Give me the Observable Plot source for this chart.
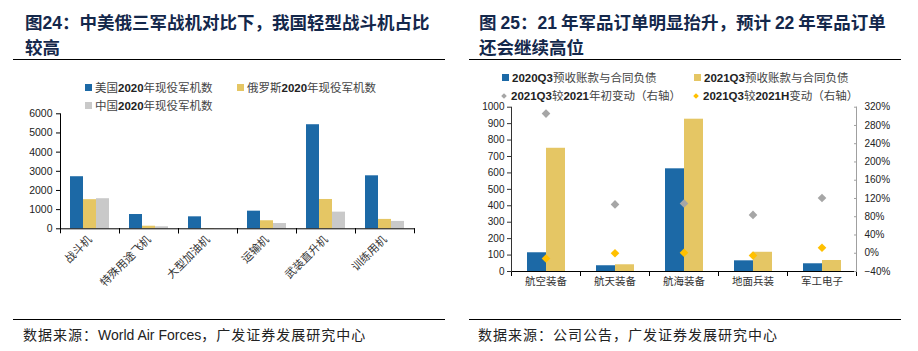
<!DOCTYPE html>
<html><head><meta charset="utf-8">
<script src="https://cdn.jsdelivr.net/npm/d3@7"></script>
<script src="https://cdn.jsdelivr.net/npm/@observablehq/plot@0.6"></script>
<style>
body{margin:0;background:#fff;width:918px;height:351px;position:relative;overflow:hidden;font-family:"Noto Sans CJK SC",sans-serif;}
.abs{position:absolute;}
.title{font-weight:700;font-size:17.5px;color:#14284b;line-height:23px;white-space:nowrap;}
.title b{font-family:Arial,"Liberation Sans",sans-serif;}
.rule{height:1.5px;background:#000;}
.src{font-size:14px;color:#222;white-space:nowrap;line-height:18px;letter-spacing:1px;}
.src span{font-family:Arial,"Liberation Sans",sans-serif;letter-spacing:0;}
.leg{font-size:11.5px;color:#444;white-space:nowrap;display:flex;align-items:center;line-height:14px;}
.leg b{font-family:Arial,"Liberation Sans",sans-serif;font-weight:700;color:#222;}
.sw{display:inline-block;width:7px;height:7px;margin-right:3px;flex:none;}
.dm{display:inline-block;width:4px;height:4px;margin:0 5px 0 2px;transform:rotate(45deg);flex:none;}
.plotbox{position:absolute;}
.plotbox svg{overflow:visible;}
</style></head><body>
<div class="abs title" style="left:25px;top:10px;">图<b>24</b>：中美俄三军战机对比下，我国轻型战斗机占比<br>较高</div>
<div class="abs rule" style="left:13px;top:58.5px;width:432px;"></div>
<div class="abs title" style="left:479px;top:10px;">图 <b>25</b>：<b>21</b> 年军品订单明显抬升，预计 <b>22</b> 年军品订单<br>还会继续高位</div>
<div class="abs rule" style="left:469px;top:58.5px;width:432px;"></div>

<div id="left" class="plotbox" style="left:0;top:100px;"></div>
<div id="right" class="plotbox" style="left:460px;top:96px;"></div>
<div id="legends"></div>

<div class="abs rule" style="left:13px;top:318.5px;width:432px;"></div>
<div class="abs src" style="left:23px;top:325px;">数据来源：<span>World Air Forces</span>，广发证券发展研究中心</div>
<div class="abs rule" style="left:469px;top:318.5px;width:432px;"></div>
<div class="abs src" style="left:478px;top:325px;">数据来源：公司公告，广发证券发展研究中心</div>

<script>
// ---------- Left chart data ----------
const leftCategories = ["战斗机", "特殊用途飞机", "大型加油机", "运输机", "武装直升机", "训练用机"];
const leftSeries = ["美国2020年现役军机数", "俄罗斯2020年现役军机数", "中国2020年现役军机数"];
const usValues = [2717, 745, 625, 920, 5430, 2765];
const ruValues = [1520, 135, 15, 420, 1530, 490];
const cnValues = [1570, 105, 3, 275, 870, 385];
const leftYTicks = [0, 1000, 2000, 3000, 4000, 5000, 6000];

// ---------- Right chart data ----------
const rightCategories = ["航空装备", "航天装备", "航海装备", "地面兵装", "军工电子"];
const rightBarSeries = ["2020Q3预收账款与合同负债", "2021Q3预收账款与合同负债"];
const q3of2020 = [114, 35, 625, 65, 47];
const q3of2021 = [750, 41, 927, 117, 67];
const rightDotSeries = ["2021Q3较2021年初变动（右轴）", "2021Q3较2021H变动（右轴）"];
const changeVsYearStart = [3.06, 1.07, 1.09, 0.84, 1.21];
const changeVsH1 = [-0.115, 0.0, 0.01, -0.05, 0.12];
const rightLeftTicks = [0, 100, 200, 300, 400, 500, 600, 700, 800, 900, 1000];
const rightRightTicks = [-0.4, 0, 0.4, 0.8, 1.2, 1.6, 2.0, 2.4, 2.8, 3.2];

// ---------- Styles ----------
const BLUE = "#1c69a6", YELLOW = "#e5c664", LGRAY = "#c9c9c9", DGRAY = "#a6a6a6", GOLD = "#ffc000";
const latin = "Arial, 'Liberation Sans', 'Noto Sans CJK SC', sans-serif";

// ---------- Left plot ----------
const leftData = leftCategories.flatMap((c, i) => [
  {cat: c, series: leftSeries[0], value: usValues[i]},
  {cat: c, series: leftSeries[1], value: ruValues[i]},
  {cat: c, series: leftSeries[2], value: cnValues[i]}
]);
const LH = 200, LMT = 13.3, LMB = 71.7;
const leftPlot = Plot.plot({
  width: 460, height: LH, marginTop: LMT, marginBottom: LMB, marginLeft: 59, marginRight: 45,
  style: {background: "transparent", fontFamily: latin, fontSize: "10.5px", color: "#222"},
  fx: {domain: leftCategories, padding: 0, axis: null},
  x: {domain: leftSeries, paddingInner: 0, paddingOuter: 0.7, axis: null},
  y: {domain: [0, 6000], axis: null},
  color: {domain: leftSeries, range: [BLUE, YELLOW, LGRAY]},
  marks: [
    Plot.barY(leftData, {fx: "cat", x: "series", y: "value", fill: "series"}),
    Plot.frame({anchor: "bottom", stroke: "#000"}),
    Plot.frame({anchor: "left", stroke: "#000", insetTop: LH - LMT - LMB, insetBottom: -4}),
    Plot.frame({anchor: "right", stroke: "#000", insetTop: LH - LMT - LMB, insetBottom: -4}),
    Plot.frame({anchor: "left", stroke: "#000", facetAnchor: "left"}),
    Plot.axisY(leftYTicks, {anchor: "left", tickSize: 4, tickPadding: 4, label: null, stroke: "#000", tickFormat: d => String(d)}),
    Plot.axisFx({anchor: "bottom", tickSize: 0, tickPadding: 9, tickRotate: -45, label: null,
      fontFamily: "'Noto Sans CJK SC', sans-serif", fontSize: 11, fill: "#333"})
  ]
});
document.getElementById("left").appendChild(leftPlot);

// ---------- Right plot ----------
const y2 = d3.scaleLinear([-0.4, 3.2], [0, 1000]);
const rightBars = rightCategories.flatMap((c, i) => [
  {cat: c, series: rightBarSeries[0], value: q3of2020[i]},
  {cat: c, series: rightBarSeries[1], value: q3of2021[i]}
]);
const rightDots = rightCategories.flatMap((c, i) => [
  {cat: c, series: rightDotSeries[0], value: changeVsYearStart[i]},
  {cat: c, series: rightDotSeries[1], value: changeVsH1[i]}
]);
const RH = 200, RMT = 10.7, RMB = 25;
const rightPlot = Plot.plot({
  width: 458, height: RH, marginTop: RMT, marginBottom: RMB, marginLeft: 49, marginRight: 61,
  style: {background: "transparent", fontFamily: latin, fontSize: "10px", color: "#222"},
  fx: {domain: rightCategories, padding: 0, axis: null},
  x: {domain: rightBarSeries, paddingInner: 0, paddingOuter: 0.74, axis: null},
  y: {domain: [0, 1000], axis: null},
  color: {domain: [...rightBarSeries, ...rightDotSeries], range: [BLUE, YELLOW, DGRAY, GOLD]},
  marks: [
    Plot.barY(rightBars, {fx: "cat", x: "series", y: "value", fill: "series"}),
    Plot.frame({anchor: "bottom", stroke: "#000"}),
    Plot.frame({anchor: "left", stroke: "#000", insetTop: RH - RMT - RMB, insetBottom: -4}),
    Plot.frame({anchor: "right", stroke: "#000", insetTop: RH - RMT - RMB, insetBottom: -4}),
    Plot.frame({anchor: "left", stroke: "#333", facetAnchor: "left"}),
    Plot.frame({anchor: "right", stroke: "#a0a0a0", facetAnchor: "right"}),
    Plot.axisY(rightLeftTicks, {anchor: "left", tickSize: 4, tickPadding: 3, label: null, stroke: "#333", tickFormat: d => String(d)}),
    Plot.axisY(rightRightTicks, {anchor: "right", y: y2, tickSize: 3, dx: -3, tickFormat: () => "", label: null, stroke: "#a0a0a0"}),
    Plot.axisY(rightRightTicks, {anchor: "right", y: y2, tickSize: 0, tickPadding: 8, tickFormat: d3.format(".0%"), label: null}),
    Plot.dot(rightDots, {fx: "cat", y: d => y2(d.value), fill: "series", symbol: "diamond2", r: 3.9}),
    Plot.axisFx({anchor: "bottom", tickSize: 0, tickPadding: 6, label: null,
      fontFamily: "'Noto Sans CJK SC', sans-serif", fontSize: 10.5, fill: "#333"})
  ]
});
document.getElementById("right").appendChild(rightPlot);

// ---------- Legends (HTML, from the series arrays) ----------
const fmt = s => s.replace(/[0-9A-Za-z]+/g, m => `<b>${m}</b>`);
const legendItems = [
  {label: leftSeries[0], color: BLUE, x: 85, y: 87, kind: "sw"},
  {label: leftSeries[1], color: YELLOW, x: 237, y: 87, kind: "sw"},
  {label: leftSeries[2], color: LGRAY, x: 85, y: 105, kind: "sw"},
  {label: rightBarSeries[0], color: BLUE, x: 502, y: 77, kind: "sw"},
  {label: rightBarSeries[1], color: YELLOW, x: 694, y: 77, kind: "sw"},
  {label: rightDotSeries[0], color: DGRAY, x: 500, y: 95, kind: "dm"},
  {label: rightDotSeries[1], color: GOLD, x: 692, y: 95, kind: "dm"}
];
const lg = document.getElementById("legends");
for (const it of legendItems) {
  const d = document.createElement("div");
  d.className = "abs leg";
  d.style.left = it.x + "px";
  d.style.top = (it.y - 7) + "px";
  d.innerHTML = `<span class="${it.kind}" style="background:${it.color}"></span><span>${fmt(it.label)}</span>`;
  lg.appendChild(d);
}
</script>
</body></html>
